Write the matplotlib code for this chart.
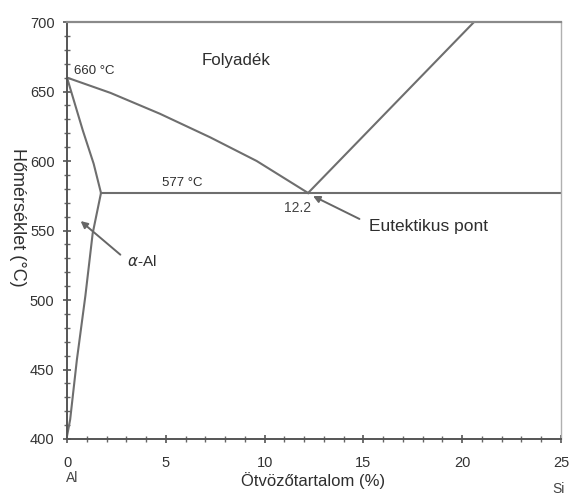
import matplotlib
matplotlib.use("Agg")
import matplotlib.pyplot as plt
from matplotlib.ticker import MultipleLocator

plt.rcParams['font.family'] = ['Liberation Sans', 'DejaVu Sans']

# Al-side liquidus (660 °C -> eutectic)
liq_al_x = [0, 2.2, 4.7, 7.25, 9.6, 12.2]
liq_al_t = [660, 649, 634, 617, 600, 577]
# Si-side liquidus (eutectic -> 700 °C)
liq_si_x = [12.2, 20.6]
liq_si_t = [577, 700]
# solidus of alpha-Al
sol_x = [0, 0.8, 1.35, 1.72]
sol_t = [660, 622, 598, 577]
# solvus of alpha-Al
solv_x = [1.72, 1.3, 0.93, 0.5, 0.16, 0]
solv_t = [577, 548, 503, 457, 414, 402]
# eutectic isotherm
eut_x = [1.72, 25]
eut_t = [577, 577]

x_ticks = [0, 5, 10, 15, 20, 25]
y_ticks = [400, 450, 500, 550, 600, 650, 700]

W, H = 569, 495
fig = plt.figure(figsize=(W / 100, H / 100), dpi=100)
ax = fig.add_axes([67 / W, 1 - 439 / H, (561 - 67) / W, (439 - 22) / H])

lc = '#6e6e6e'
lw = 1.5
ax.plot(liq_al_x, liq_al_t, color=lc, lw=lw)
ax.plot(liq_si_x, liq_si_t, color=lc, lw=lw)
ax.plot(sol_x, sol_t, color=lc, lw=lw)
ax.plot(solv_x, solv_t, color=lc, lw=lw)
ax.plot(eut_x, eut_t, color=lc, lw=lw)

ax.set_xlim(0, 25)
ax.set_ylim(400, 700)
ax.set_xticks(x_ticks)
ax.set_yticks(y_ticks)
ax.xaxis.set_minor_locator(MultipleLocator(1))
ax.yaxis.set_minor_locator(MultipleLocator(10))
ax.tick_params(which='major', direction='inout', length=6, width=1.2, color='#555555',
               labelsize=10.5, labelcolor='#333333')
ax.tick_params(axis='x', which='major', pad=9)
ax.tick_params(axis='y', which='major', pad=6)
ax.tick_params(which='minor', direction='inout', length=4, width=1.0, color='#666666')

for s in ['left', 'bottom']:
    ax.spines[s].set_color('#555555')
    ax.spines[s].set_linewidth(1.4)
ax.spines['top'].set_color('#8a8a8a')
ax.spines['top'].set_linewidth(1.6)
ax.spines['right'].set_color('#b0b0b0')
ax.spines['right'].set_linewidth(1.0)

tc = '#2e2e2e'
ax.text(0.35, 665, '660 °C', fontsize=9.5, color=tc, ha='left', va='center')
ax.text(8.55, 672.5, 'Folyadék', fontsize=12.2, color=tc, ha='center', va='center')
ax.text(4.8, 584, '577 °C', fontsize=9.5, color=tc, ha='left', va='center')
ax.text(11.65, 566, '12.2', fontsize=10, color='#444444', ha='center', va='center')
ax.text(15.3, 553, 'Eutektikus pont', fontsize=12.5, color=tc, ha='left', va='center')
ax.text(3.05, 528, r'$\alpha$-Al', fontsize=11, color=tc, ha='left', va='center')

arrow_kw = dict(arrowstyle='-|>', color='#666666', lw=1.4, mutation_scale=10,
                shrinkA=0, shrinkB=0)
ax.annotate('', xy=(12.45, 574.8), xytext=(14.8, 558.3), arrowprops=arrow_kw)
ax.annotate('', xy=(0.69, 556.8), xytext=(2.7, 532.6), arrowprops=arrow_kw)

fig.text(313 / W, 1 - 481 / H, 'Ötvözőtartalom (%)', fontsize=12, color=tc,
         ha='center', va='center')
fig.text(72 / W, 1 - 478 / H, 'Al', fontsize=10, color='#444444', ha='center', va='center')
fig.text(559 / W, 1 - 489 / H, 'Si', fontsize=10, color='#444444', ha='center', va='center')
fig.text(17 / W, 1 - 217 / H, 'Hőmérséklet (°C)', fontsize=13, color=tc,
         rotation=270, ha='center', va='center')

fig.savefig('out.png', dpi=100)
